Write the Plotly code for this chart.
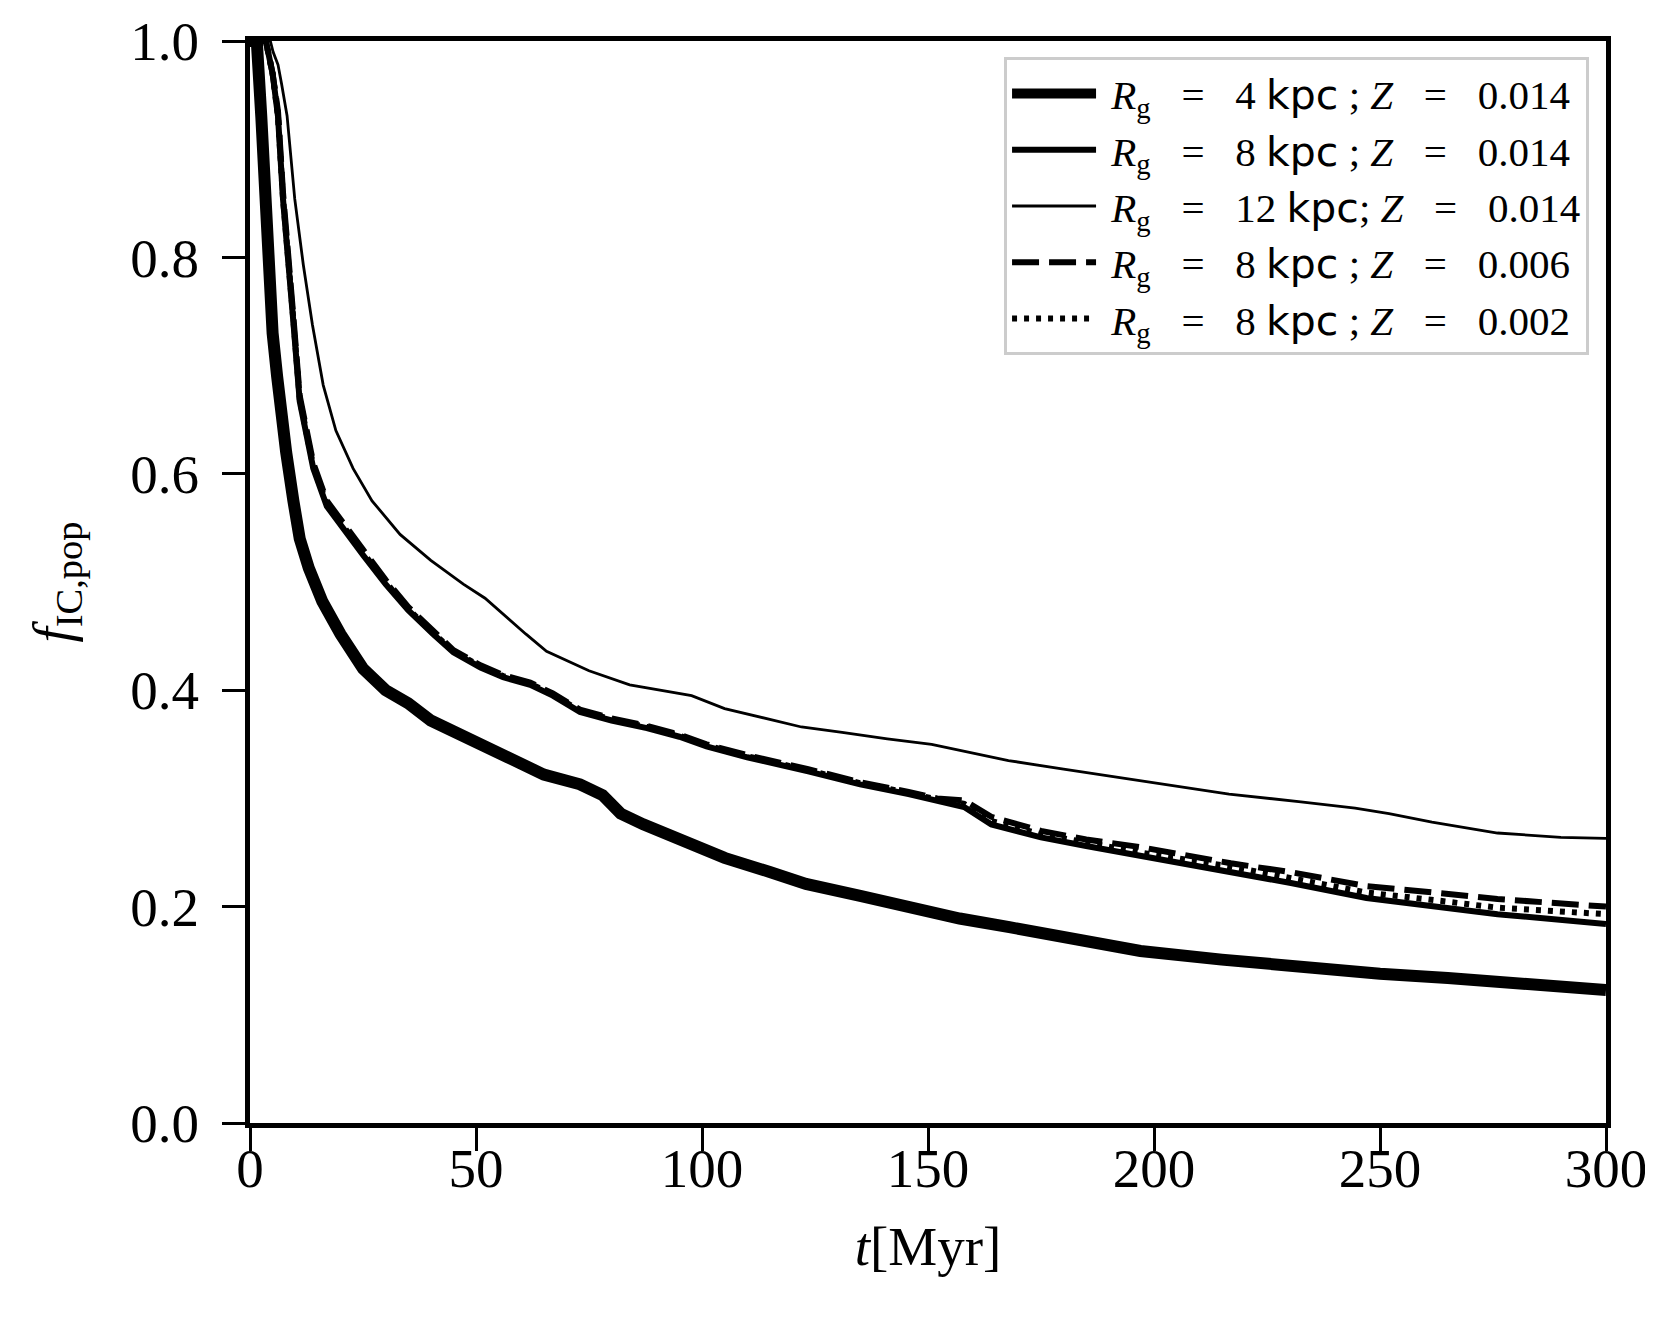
import plotly.graph_objects as go

# time grid (Myr) and f_IC,pop, one list pair per run
t_r4 = [0, 1.5, 2.5, 3.3, 4, 5, 6, 7, 8, 9.6, 11, 13, 16, 20, 25, 30, 35, 40, 46, 52,
        58, 65, 73, 78, 82, 87, 95, 105, 115, 123, 135, 146, 157, 168, 180, 197, 215,
        233, 250, 265, 280, 300]
f_r4 = [1.0, 1.0, 0.93, 0.85, 0.79, 0.73, 0.69, 0.65, 0.62, 0.575, 0.54, 0.513, 0.482,
        0.452, 0.42, 0.40, 0.388, 0.372, 0.359, 0.348, 0.336, 0.322, 0.313, 0.303, 0.286,
        0.276, 0.262, 0.245, 0.232, 0.221, 0.21, 0.199, 0.189, 0.181, 0.172, 0.159,
        0.151, 0.143, 0.138, 0.134, 0.129, 0.123]

t_r8 = [0, 3.5, 5, 6.2, 7.3, 8.8, 9.6, 11, 14, 17, 21.4, 25, 30, 35, 40.5, 45, 51, 56,
        62, 67, 73, 80, 87.8, 95, 101, 110, 123.5, 135, 145.7, 152, 158, 164, 175, 185,
        197, 217, 230, 247, 262, 276, 300]
f_r8 = [1.0, 1.0, 0.97, 0.93, 0.854, 0.77, 0.74, 0.667, 0.605, 0.57, 0.544, 0.525,
        0.498, 0.474, 0.452, 0.435, 0.421, 0.412, 0.405, 0.395, 0.38, 0.372, 0.365,
        0.357, 0.348, 0.338, 0.325, 0.313, 0.304, 0.298, 0.292, 0.276, 0.264, 0.256,
        0.247, 0.233, 0.222, 0.208, 0.200, 0.193, 0.184]

t_z006 = [0, 3.5, 5, 6.2, 7.3, 8.8, 9.6, 11, 14, 17, 21.4, 25, 30, 35, 40.5, 45, 51, 56,
          62, 67, 73, 80, 87.8, 95, 101, 110, 123.5, 135, 145.7, 152, 158, 164, 175,
          185, 197, 217, 230, 247, 262, 276, 300]
f_z006 = [1.0, 1.0, 0.97, 0.935, 0.86, 0.775, 0.745, 0.672, 0.61, 0.575, 0.549, 0.53,
          0.502, 0.477, 0.455, 0.437, 0.423, 0.414, 0.407, 0.397, 0.382, 0.374, 0.367,
          0.359, 0.35, 0.34, 0.327, 0.315, 0.306, 0.30, 0.298, 0.283, 0.27, 0.262,
          0.255, 0.240, 0.232, 0.219, 0.213, 0.207, 0.200]

t_z002 = [0, 3.5, 5, 6.2, 7.3, 8.8, 9.6, 11, 14, 17, 21.4, 25, 30, 35, 40.5, 45, 51, 56,
          62, 67, 73, 80, 87.8, 95, 101, 110, 123.5, 135, 145.7, 152, 158, 164, 175,
          185, 197, 217, 230, 247, 262, 276, 300]
f_z002 = [1.0, 1.0, 0.97, 0.93, 0.855, 0.772, 0.742, 0.669, 0.607, 0.572, 0.546, 0.527,
          0.5, 0.475, 0.453, 0.436, 0.422, 0.413, 0.406, 0.396, 0.381, 0.373, 0.366,
          0.358, 0.349, 0.339, 0.326, 0.314, 0.305, 0.299, 0.295, 0.279, 0.267, 0.259,
          0.25, 0.237, 0.227, 0.213, 0.206, 0.199, 0.193]

t_r12 = [0, 4.5, 5.1, 6.2, 7, 8.2, 9.9, 11.8, 13.8, 16.2, 19, 22.8, 27, 33.2, 40, 47.2,
         52, 56.8, 61, 65.6, 75, 84, 92, 97.7, 105, 114.7, 122, 131, 141, 150.8, 160,
         167.8, 180, 197.3, 216.6, 232, 244.5, 252, 261.5, 276, 290, 300]
f_r12 = [1.0, 1.0, 0.99, 0.978, 0.96, 0.931, 0.854, 0.793, 0.738, 0.682, 0.64, 0.605,
         0.575, 0.544, 0.52, 0.498, 0.485, 0.467, 0.452, 0.436, 0.418, 0.405, 0.399,
         0.395, 0.383, 0.373, 0.366, 0.361, 0.355, 0.35, 0.342, 0.335, 0.327, 0.316,
         0.304, 0.297, 0.291, 0.286, 0.278, 0.268, 0.264, 0.263]

X_TICKS = [0, 50, 100, 150, 200, 250, 300]
Y_TICKS = [0.0, 0.2, 0.4, 0.6, 0.8, 1.0]
Y_TICK_TEXT = ["0.0", "0.2", "0.4", "0.6", "0.8", "1.0"]

SERIF = "Liberation Serif"
KPC = "<span style='font-family:DejaVu Sans'>kpc</span>"
EQ = "&nbsp;&nbsp;&nbsp;=&nbsp;&nbsp;&nbsp;"


def label(rg, z, sep="&nbsp;;"):
    return (f"&nbsp;<i>R</i><sub>g</sub>{EQ}{rg}&nbsp;{KPC}{sep}&nbsp;<i>Z</i>{EQ}{z}")


series = [
    (t_r4, f_r4, label(4, "0.014"), 12, "solid"),
    (t_r8, f_r8, label(8, "0.014"), 6, "solid"),
    (t_r12, f_r12, label(12, "0.014", sep=";"), 2.8, "solid"),
    (t_z006, f_z006, label(8, "0.006"), 6, "27px,10px"),
    (t_z002, f_z002, label(8, "0.002"), 6, "5px,7px"),
]

fig = go.Figure()
for i, (t, f, name, w, dash) in enumerate(series):
    fig.add_trace(go.Scatter(
        x=t, y=f, mode="lines", name=name,
        line=dict(color="black", width=w, dash=dash),
        legendgroup=f"g{i}",
    ))

axis_common = dict(
    showline=True, linecolor="black", linewidth=5, mirror=True,
    ticks="outside", ticklen=23, tickwidth=3, tickcolor="black",
    showgrid=False, zeroline=False, automargin=False,
    tickfont=dict(family=SERIF, size=55, color="black"),
)

fig.update_layout(
    width=1653, height=1322,
    paper_bgcolor="white", plot_bgcolor="white",
    margin=dict(l=242, r=55, t=33, b=207),
    showlegend=True,
    legend=dict(
        x=0.9875, y=0.985, xanchor="right", yanchor="top",
        bgcolor="rgba(255,255,255,0.8)", bordercolor="#cccccc", borderwidth=3,
        font=dict(family=SERIF, size=41, color="black"),
        itemwidth=84, tracegroupgap=0, traceorder="grouped",
    ),
    xaxis=dict(
        range=[0, 300], tickvals=X_TICKS, ticklabelstandoff=-30,
        title=dict(text="<i>t</i>[Myr]", font=dict(family=SERIF, size=55, color="black"),
                   standoff=30),
        **axis_common,
    ),
    yaxis=dict(
        range=[0, 1], tickvals=Y_TICKS, ticktext=Y_TICK_TEXT, ticklabelstandoff=12,
        title=dict(text="<i>f</i><sub>IC,pop</sub>",
                   font=dict(family=SERIF, size=55, color="black"), standoff=43),
        **axis_common,
    ),
)

fig.write_html("out.html")
